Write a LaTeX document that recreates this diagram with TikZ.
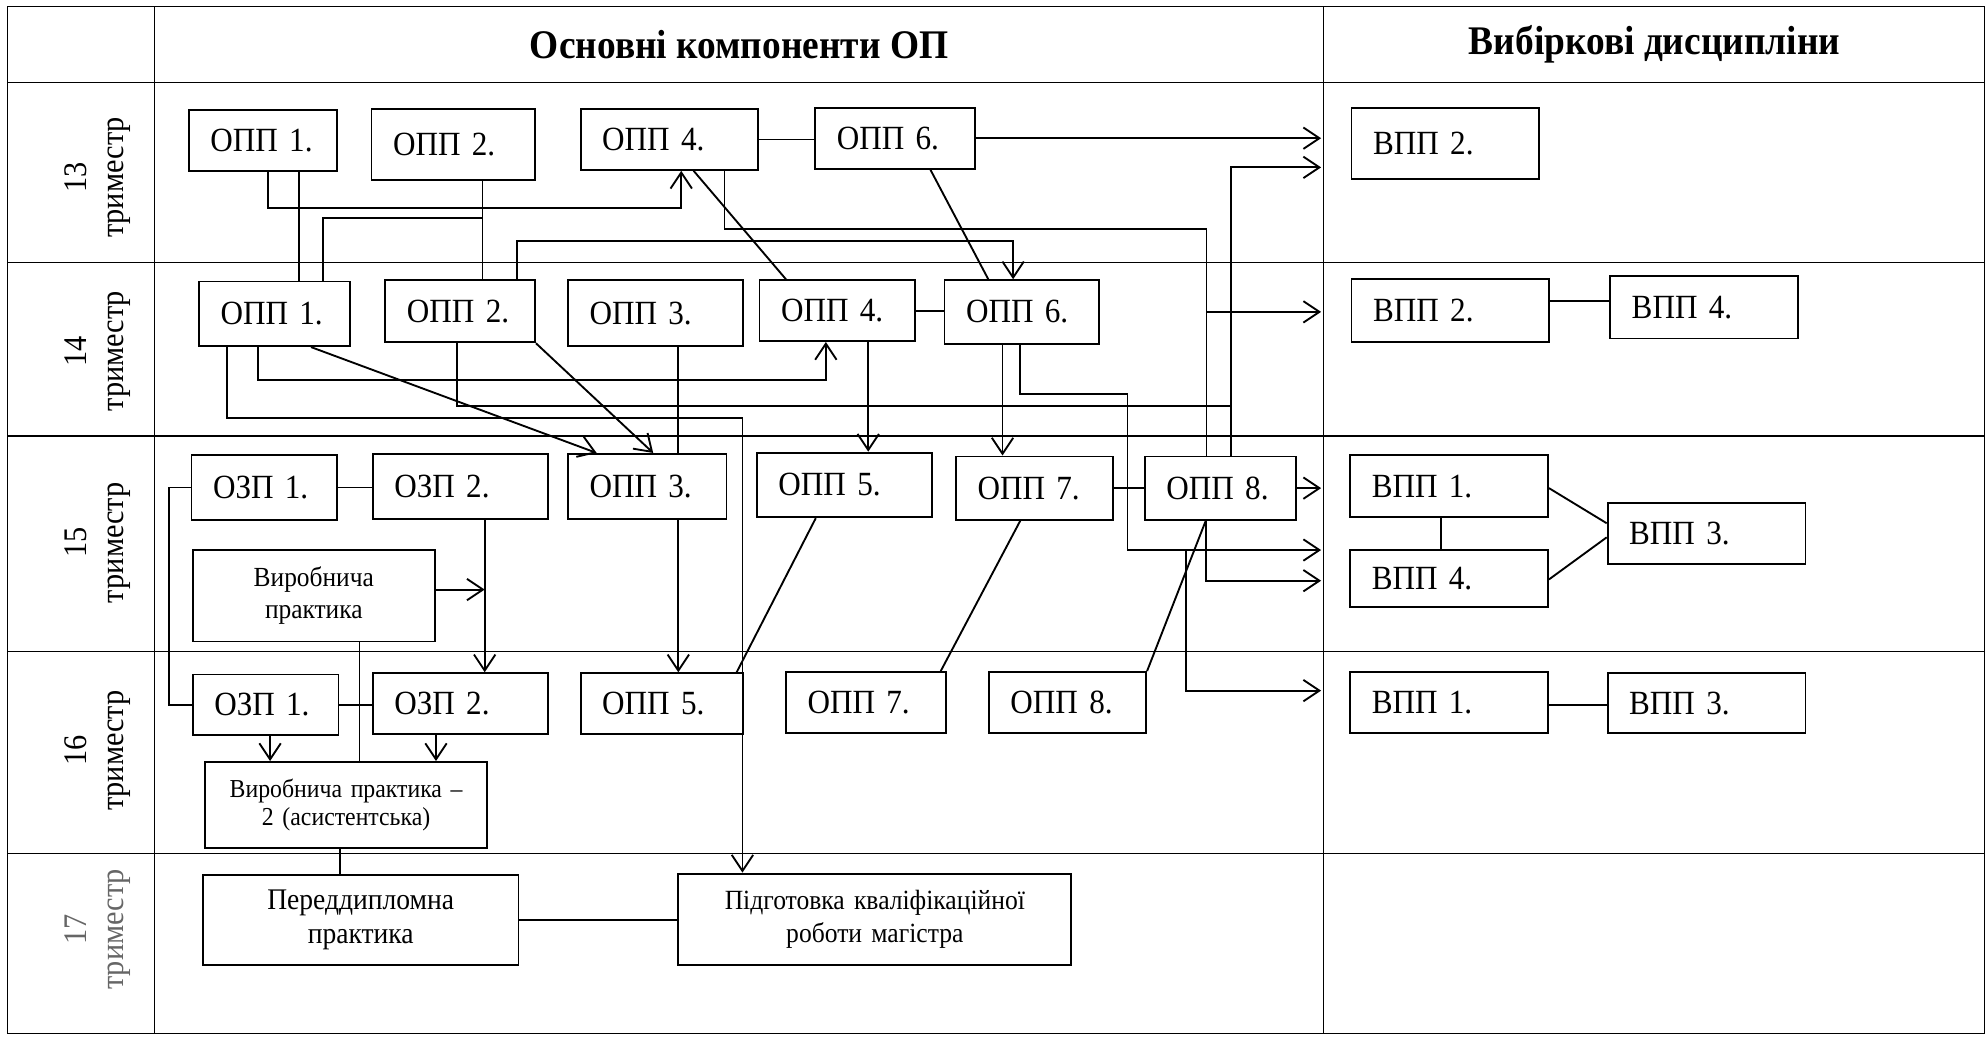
\documentclass[tikz,border=0pt]{standalone}
\usepackage{fontspec}
\setmainfont{Liberation Serif}[FakeStretch=0.92]
\usetikzlibrary{arrows.meta}
% left-aligned box: name, x1, y1, x2, y2, text
\newcommand\Bx[6]{%
  \pgfmathsetmacro\bxw{(#4-#2-34)*0.025}%
  \pgfmathsetmacro\bxh{(#5-#3)*0.025}%
  \node[box,text width=\bxw cm,minimum height=\bxh cm] (#1) at ({(#2+#4)/2},{(#3+#5)/2}) {#6};}
% centred box: name, x1, y1, x2, y2, font, text
\newcommand\Cx[7]{%
  \pgfmathsetmacro\bxw{(#4-#2-10)*0.025}%
  \pgfmathsetmacro\bxh{(#5-#3)*0.025}%
  \node[cbox,text width=\bxw cm,minimum height=\bxh cm,font=#6] (#1) at ({(#2+#4)/2},{(#3+#5)/2}) {#7};}
\begin{document}
\begin{tikzpicture}[x=0.025cm,y=-0.025cm,
  box/.style={draw,line width=1.05pt,inner xsep=0.425cm,inner ysep=0pt,align=left,font=\fontsize{19}{21}\selectfont},
  cbox/.style={draw,line width=1.05pt,inner xsep=0.125cm,inner ysep=0pt,align=center},
  ln/.style={line width=1.05pt},
  arr/.style={ln,-{Straight Barb[length=9pt,width=12pt]}},
  gridl/.style={line width=0.8pt},
  hdr/.style={font=\fontsize{22.8}{26}\selectfont\bfseries},
  rowlab/.style={rotate=90,align=center,font=\fontsize{18.5}{21}\selectfont}]
\useasboundingbox (0,0) rectangle (1568,818);

% table
\draw[gridl] (6,5) rectangle (1565,815);
\foreach \yy in {65,207,344,514,673} \draw[gridl] (6,\yy) -- (1565,\yy);
\draw[gridl] (122,5) -- (122,815);
\draw[gridl] (1044,5) -- (1044,815);
\coordinate (col) at (1042,0);

% headers
\node[hdr] (h1) at (583,35) {Основні компоненти ОП};
\node[hdr] (h2) at (1305,35) {Вибіркові дисципліни};

% row labels
\node[rowlab] (r13) at (77,140) {13\\триместр};
\node[rowlab] (r14) at (77,277) {14\\триместр};
\node[rowlab] (r15) at (77,428) {15\\триместр};
\node[rowlab] (r16) at (77,592) {16\\триместр};
\node[rowlab,text=black!60] (r17) at (77,733) {17\\триместр};

% row 13
\Bx{a1}{149}{87}{266}{135}{ОПП 1.}
\Bx{a2}{293}{86}{422}{142}{ОПП 2.}
\Bx{a4}{458}{86}{598}{134}{ОПП 4.}
\Bx{a6}{643}{85}{769}{133}{ОПП 6.}
\Bx{v13}{1066}{85}{1214}{141}{ВПП 2.}

% row 14
\Bx{b1}{157}{222}{276}{273}{ОПП 1.}
\Bx{b2}{304}{221}{422}{270}{ОПП 2.}
\Bx{b3}{448}{221}{586}{273}{ОПП 3.}
\Bx{b4}{599}{221}{722}{269}{ОПП 4.}
\Bx{b6}{745}{221}{867}{271}{ОПП 6.}
\Bx{v14a}{1066}{220}{1222}{270}{ВПП 2.}
\Bx{v14b}{1270}{218}{1418}{267}{ВПП 4.}

% row 15
\Bx{cz1}{151}{359}{266}{410}{ОЗП 1.}
\Bx{cz2}{294}{358}{432}{409}{ОЗП 2.}
\Bx{c3}{448}{358}{573}{409}{ОПП 3.}
\Bx{c5}{597}{357}{735}{408}{ОПП 5.}
\Bx{c7}{754}{360}{878}{410}{ОПП 7.}
\Bx{c8}{903}{360}{1022}{410}{ОПП 8.}
\Cx{cvp}{152}{434}{343}{506}{\fontsize{15.5}{18}\selectfont}{Виробнича\\практика}
\Bx{v15a}{1065}{359}{1221}{408}{ВПП 1.}
\Bx{v15b}{1065}{434}{1221}{479}{ВПП 4.}
\Bx{v15c}{1268}{397}{1424}{445}{ВПП 3.}

% row 16
\Bx{dz1}{152}{532}{267}{580}{ОЗП 1.}
\Bx{dz2}{294}{531}{432}{579}{ОЗП 2.}
\Bx{d5}{458}{531}{586}{579}{ОПП 5.}
\Bx{d7}{620}{530}{746}{578}{ОПП 7.}
\Bx{d8}{780}{530}{904}{578}{ОПП 8.}
\Cx{dvp}{162}{601}{384}{669}{\fontsize{14.5}{15.5}\selectfont}{Виробнича практика –\\2 (асистентська)}
\Bx{v16a}{1065}{530}{1221}{578}{ВПП 1.}
\Bx{v16b}{1268}{531}{1424}{578}{ВПП 3.}

% row 17
\Cx{epd}{160}{690}{409}{761}{\fontsize{16.8}{19}\selectfont}{Переддипломна\\практика}
\Cx{epg}{535}{689}{845}{761}{\fontsize{15.6}{18.5}\selectfont}{Підготовка кваліфікаційної\\роботи магістра}

% junction points
\coordinate (j1) at (951.6,246);
\coordinate (j2) at (935.2,433.8);
\coordinate (j3) at (382.3,465);

% ---- connectors: row 13 / 14
\draw[ln] (a4.east) -- (a4.east -| a6.west);
\draw[arr] (a6.east) -- (a6.east -| col);
\draw[ln] (a1.south -| 235.6,0) -- (b1.north -| 235.6,0);
\draw[arr] (a1.south -| 211.6,0) |- (537.3,163.8) -- (a4.south -| 537.3,0);
\draw[ln] (a2.south -| 380.6,0) -- (b2.north -| 380.6,0);
\draw[ln] (b1.north -| 254.9,0) |- (380.6,172.2);
\draw[arr] (b2.north -| 407.7,0) |- (799.1,190) -- (b6.north -| 799.1,0);
\draw[ln] (a4.south -| 547.1,0) -- (b4.north -| 619.9,0);
\draw[ln] (a6.south -| 733.8,0) -- (b6.north -| 779.5,0);
\draw[ln] (a4.south -| 571.4,0) |- (951.6,180.5) -- (c8.north -| 951.6,0);
\draw[arr] (j1) -- (j1 -| col);
\draw[arr] (c8.north -| 971,0) |- (col |- 0,132);
\draw[ln] (b4.east) -- (b4.east -| b6.west);

% ---- row 14 / 15
\draw[ln] (b2.south -| 360.7,0) |- (971,320.2);
\draw[arr] (b1.south -| 179.3,0) |- (585.6,329.5) -- (epg.north -| 585.6,0);
\draw[arr] (b1.south -| 203.2,0) |- (651.4,299.7) -- (b4.south -| 651.4,0);
\draw[arr] (b1.south -| 245.3,0) -- (c3.north -| 470.6,0);
\draw[arr] (b2.south east) -- (c3.north -| 515.2,0);
\draw[ln] (b3.south -| 535,0) -- (c3.north -| 535,0);
\draw[arr] (b4.south -| 684.8,0) -- (c5.north -| 684.8,0);
\draw[arr] (b6.south -| 790.7,0) -- (c7.north -| 790.7,0);
\draw[arr] (b6.south -| 804.4,0) |- (889.3,311) |- (col |- 0,433.8);

% ---- row 15
\draw[ln] (cz1.east) -- (cz1.east -| cz2.west);
\draw[ln] (c7.east) -- (c7.east -| c8.west);
\draw[arr] (c8.east) -- (c8.east -| col);
\draw[arr] (c8.south -| 951,0) |- (col |- 0,458);
\draw[arr] (j2) |- (col |- 0,544.7);
\draw[arr] (cvp.east |- j3) -- (j3);
\draw[ln] (v15a.south -| 1136.7,0) -- (v15b.north -| 1136.7,0);
\draw[ln] (v15a.east |- 0,385) -- (v15c.west |- 0,412.7);
\draw[ln] (v15b.east |- 0,457) -- (v15c.west |- 0,423.8);
\draw[ln] (v14a.east |- 0,237.4) -- (v14b.west |- 0,237.4);

% ---- row 15 / 16
\draw[arr] (c3.south -| 535,0) -- (d5.north -| 535,0);
\draw[ln] (c5.south -| 643.4,0) -- (d5.north -| 581,0);
\draw[ln] (c7.south -| 804.7,0) -- (d7.north -| 742,0);
\draw[ln] (c8.south -| 951,0) -- (d8.north east);
\draw[ln] (cz1.west) -- ++(-17,0) |- (dz1.west);
\draw[arr] (cz2.south -| 382.3,0) -- (dz2.north -| 382.3,0);
\draw[ln] (cvp.south -| 283.5,0) -- (dvp.north -| 283.5,0);

% ---- row 16 / 17
\draw[ln] (dz1.east) -- (dz1.east -| dz2.west);
\draw[arr] (dz1.south -| 213,0) -- (dvp.north -| 213,0);
\draw[arr] (dz2.south -| 343.9,0) -- (dvp.north -| 343.9,0);
\draw[ln] (v16a.east |- 0,556) -- (v16b.west |- 0,556);
\draw[ln] (dvp.south -| 268,0) -- (epd.north -| 268,0);
\draw[ln] (epd.east) -- (epd.east -| epg.west);
\end{tikzpicture}
\end{document}
